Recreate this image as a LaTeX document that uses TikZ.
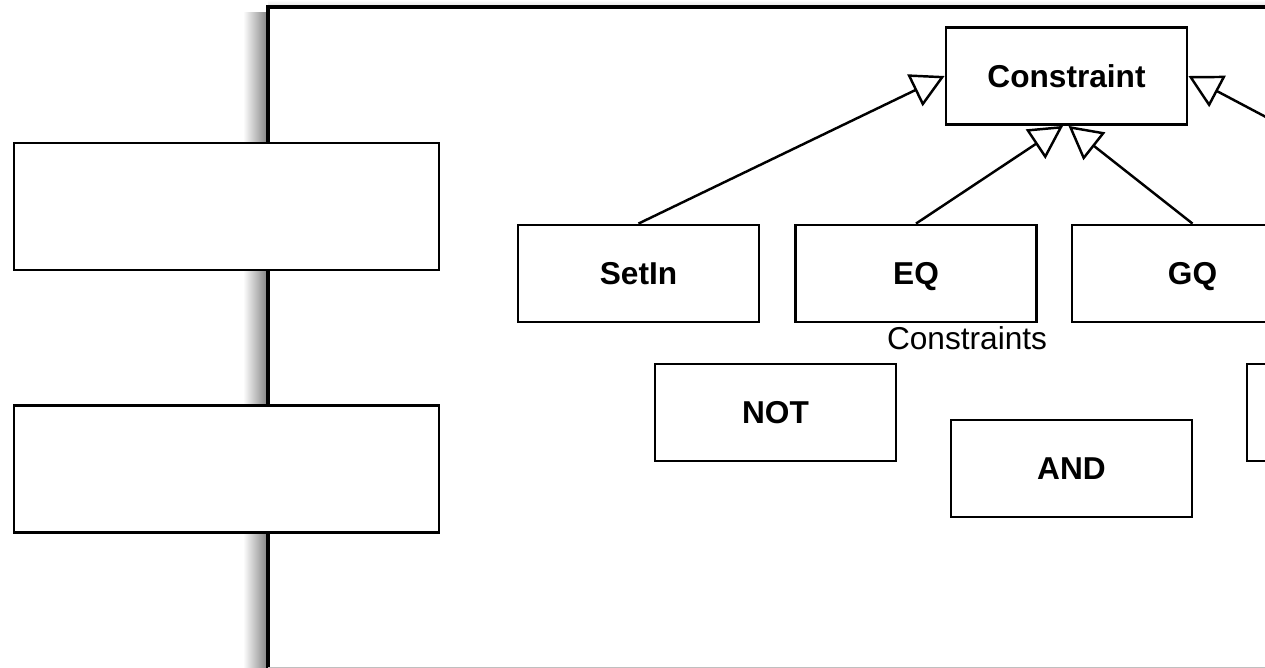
\documentclass[tikz,border=0pt]{standalone}
\usepackage{fontspec}
\setmainfont{Liberation Sans}
\usetikzlibrary{arrows.meta}

\tikzset{
    classbox/.style={draw, line width=1.6pt, fill=white, minimum width=4.82cm, minimum height=1.94cm, inner sep=0pt, text height=13pt, text depth=0pt, font=\fontsize{18}{22}\selectfont\bfseries},
    sidebox/.style={draw, line width=1.6pt, fill=white, minimum width=8.5cm, minimum height=2.54cm, inner sep=0pt},
    inherit/.style={line width=1.4pt, -{Triangle[open, length=0.66cm, width=0.7cm, line width=1.4pt]}}
}

\begin{document}
\begin{tikzpicture}

        \useasboundingbox (0,0) rectangle (25.3,13.36);
        \clip (0,0) rectangle (25.3,13.36);

        % package frame with its shadow
            \shade[left color=white, right color=black!50] (4.86,-0.1) rectangle (5.36,12.7);
            \shade[top color=white, bottom color=black!50, left color=white, right color=black!50] (4.86,12.7) rectangle (5.36,13.1);
            \shade[top color=white, bottom color=black!12] (5.36,13.22) rectangle (25.4,13.36);
            \draw[line width=2pt] (5.36,-0.5) -- (5.36,13.22) -- (26,13.22);
            \draw[black!25, line width=0.4pt] (5.36,0.02) -- (25.3,0.02);
            \node at (19.34,6.6) {\fontsize{18}{22}\selectfont Constraints};

        % classes
            \node[classbox] (constraint) at (21.33,11.84) {Constraint};
            \node[classbox] (setin) at (12.77,7.89) {SetIn};
            \node[classbox] (eq) at (18.32,7.89) {EQ};
            \node[classbox] (gq) at (23.85,7.89) {GQ};
            \node[classbox] (not) at (15.51,5.11) {NOT};
            \node[classbox] (and) at (21.43,3.99) {AND};
            \node[classbox] (more) at (27.35,5.11) {};
            \coordinate (offright) at (28,9.6);

        % generalisations
            \draw[inherit] (setin.north) -- (constraint.west);
            \draw[inherit] (eq.north) -- ([xshift=-0.07cm]constraint.south);
            \draw[inherit] (gq.north) -- ([xshift=0.04cm]constraint.south);
            \draw[inherit] (offright) -- (constraint.east);

        % boxes on the left
            \node[sidebox] (upper) at (4.53,9.23) {};
            \node[sidebox] (lower) at (4.53,3.98) {};
        \end{tikzpicture}
\end{document}
